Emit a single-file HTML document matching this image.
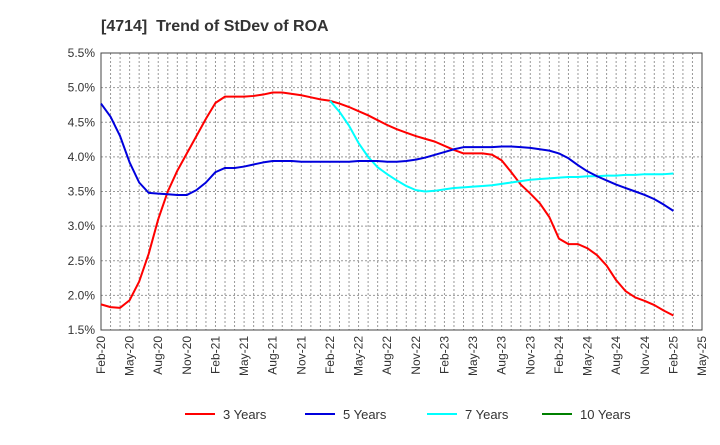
<!DOCTYPE html>
<html><head><meta charset="utf-8"><style>
body{margin:0;background:#fff;font-family:"Liberation Sans",sans-serif}
</style></head><body>
<svg id="chart" width="720" height="440" xmlns="http://www.w3.org/2000/svg" font-family="Liberation Sans, sans-serif">
<text x="101" y="31" font-size="16" font-weight="bold" fill="#333">[4714]&#160; Trend of StDev of ROA</text>
<g id="grid"></g><g id="axes"></g><g id="series"></g><g id="legend"></g>
</svg>
<script>
const yTicks=[1.5,2.0,2.5,3.0,3.5,4.0,4.5,5.0,5.5];
const xLabels=["Feb-20","May-20","Aug-20","Nov-20","Feb-21","May-21","Aug-21","Nov-21","Feb-22","May-22","Aug-22","Nov-22","Feb-23","May-23","Aug-23","Nov-23","Feb-24","May-24","Aug-24","Nov-24","Feb-25","May-25"];
const years3=[1.87,1.83,1.82,1.93,2.2,2.6,3.1,3.5,3.8,4.05,4.3,4.55,4.78,4.87,4.87,4.87,4.88,4.9,4.93,4.93,4.91,4.89,4.86,4.83,4.81,4.77,4.72,4.66,4.6,4.53,4.46,4.4,4.35,4.3,4.26,4.22,4.16,4.1,4.05,4.05,4.05,4.03,3.95,3.78,3.6,3.47,3.33,3.13,2.82,2.74,2.74,2.68,2.58,2.43,2.22,2.06,1.97,1.92,1.86,1.78,1.71];
const years5=[4.77,4.58,4.3,3.92,3.63,3.48,3.47,3.46,3.45,3.45,3.52,3.63,3.78,3.84,3.84,3.86,3.89,3.92,3.94,3.94,3.94,3.93,3.93,3.93,3.93,3.93,3.93,3.94,3.94,3.94,3.93,3.93,3.94,3.96,3.99,4.03,4.07,4.11,4.14,4.14,4.14,4.14,4.15,4.15,4.14,4.13,4.11,4.09,4.05,3.98,3.88,3.79,3.72,3.66,3.6,3.55,3.5,3.45,3.39,3.31,3.22];
const years7Start=24;
const years7=[4.81,4.65,4.45,4.2,4.0,3.85,3.75,3.66,3.58,3.52,3.5,3.51,3.53,3.55,3.56,3.57,3.58,3.59,3.61,3.63,3.65,3.67,3.68,3.69,3.7,3.71,3.71,3.72,3.72,3.73,3.73,3.74,3.74,3.75,3.75,3.75,3.76];
const years10=[];
const NS="http://www.w3.org/2000/svg";
const L=101,R=702,T=53,B=330,months=63;
const x=i=>L+(R-L)*i/months;
const y=v=>B-(v-1.5)/4*(B-T);
function mk(tag,attrs,parent){const e=document.createElementNS(NS,tag);for(const k in attrs)e.setAttribute(k,attrs[k]);parent.appendChild(e);return e;}
const grid=document.getElementById('grid'),axes=document.getElementById('axes'),ser=document.getElementById('series'),leg=document.getElementById('legend');
for(let i=1;i<months;i++){const l=mk('line',{x1:x(i),x2:x(i),y1:T,y2:B,stroke:'#999','stroke-dasharray':'2,2','stroke-width':1},grid);

}
yTicks.forEach(v=>{if(v>1.5&&v<5.5){const l=mk('line',{x1:L,x2:R,y1:y(v),y2:y(v),stroke:'#999','stroke-dasharray':'2,2','stroke-width':1},grid);

}
const t=mk('text',{x:L-6,y:y(v)+4,'text-anchor':'end','font-size':12,fill:'#333'},axes);t.textContent=v.toFixed(1)+'%';

});
const fr=mk('rect',{x:L,y:T,width:R-L,height:B-T,fill:'none',stroke:'#444','stroke-width':1},axes);


xLabels.forEach((s,i)=>{const px=x(i*3);const t=mk('text',{transform:`translate(${px+4},${B+6}) rotate(-90)`,'text-anchor':'end','font-size':12,fill:'#333'},axes);t.textContent=s;

});
function line(data,start,color,name){if(!data.length)return;const p=mk('polyline',{points:data.map((v,i)=>x(start+i)+','+y(v)).join(' '),fill:'none',stroke:color,'stroke-width':2,'stroke-linejoin':'round'},ser);

}
line(years3,0,'#ff0000','line-3-years');
line(years7,years7Start,'#00ffff','line-7-years');
line(years5,0,'#0000dd','line-5-years');
line(years10,0,'#008000','line-10-years');
[["3 Years","#ff0000",185],["5 Years","#0000dd",305],["7 Years","#00ffff",427],["10 Years","#008000",542]].forEach(([s,c,lx])=>{
const g=mk('g',{},leg);


mk('line',{x1:lx,x2:lx+30,y1:414,y2:414,stroke:c,'stroke-width':2},g);
const t=mk('text',{x:lx+38,y:419,'font-size':13,fill:'#333'},g);t.textContent=s;});
</script>
</body></html>
